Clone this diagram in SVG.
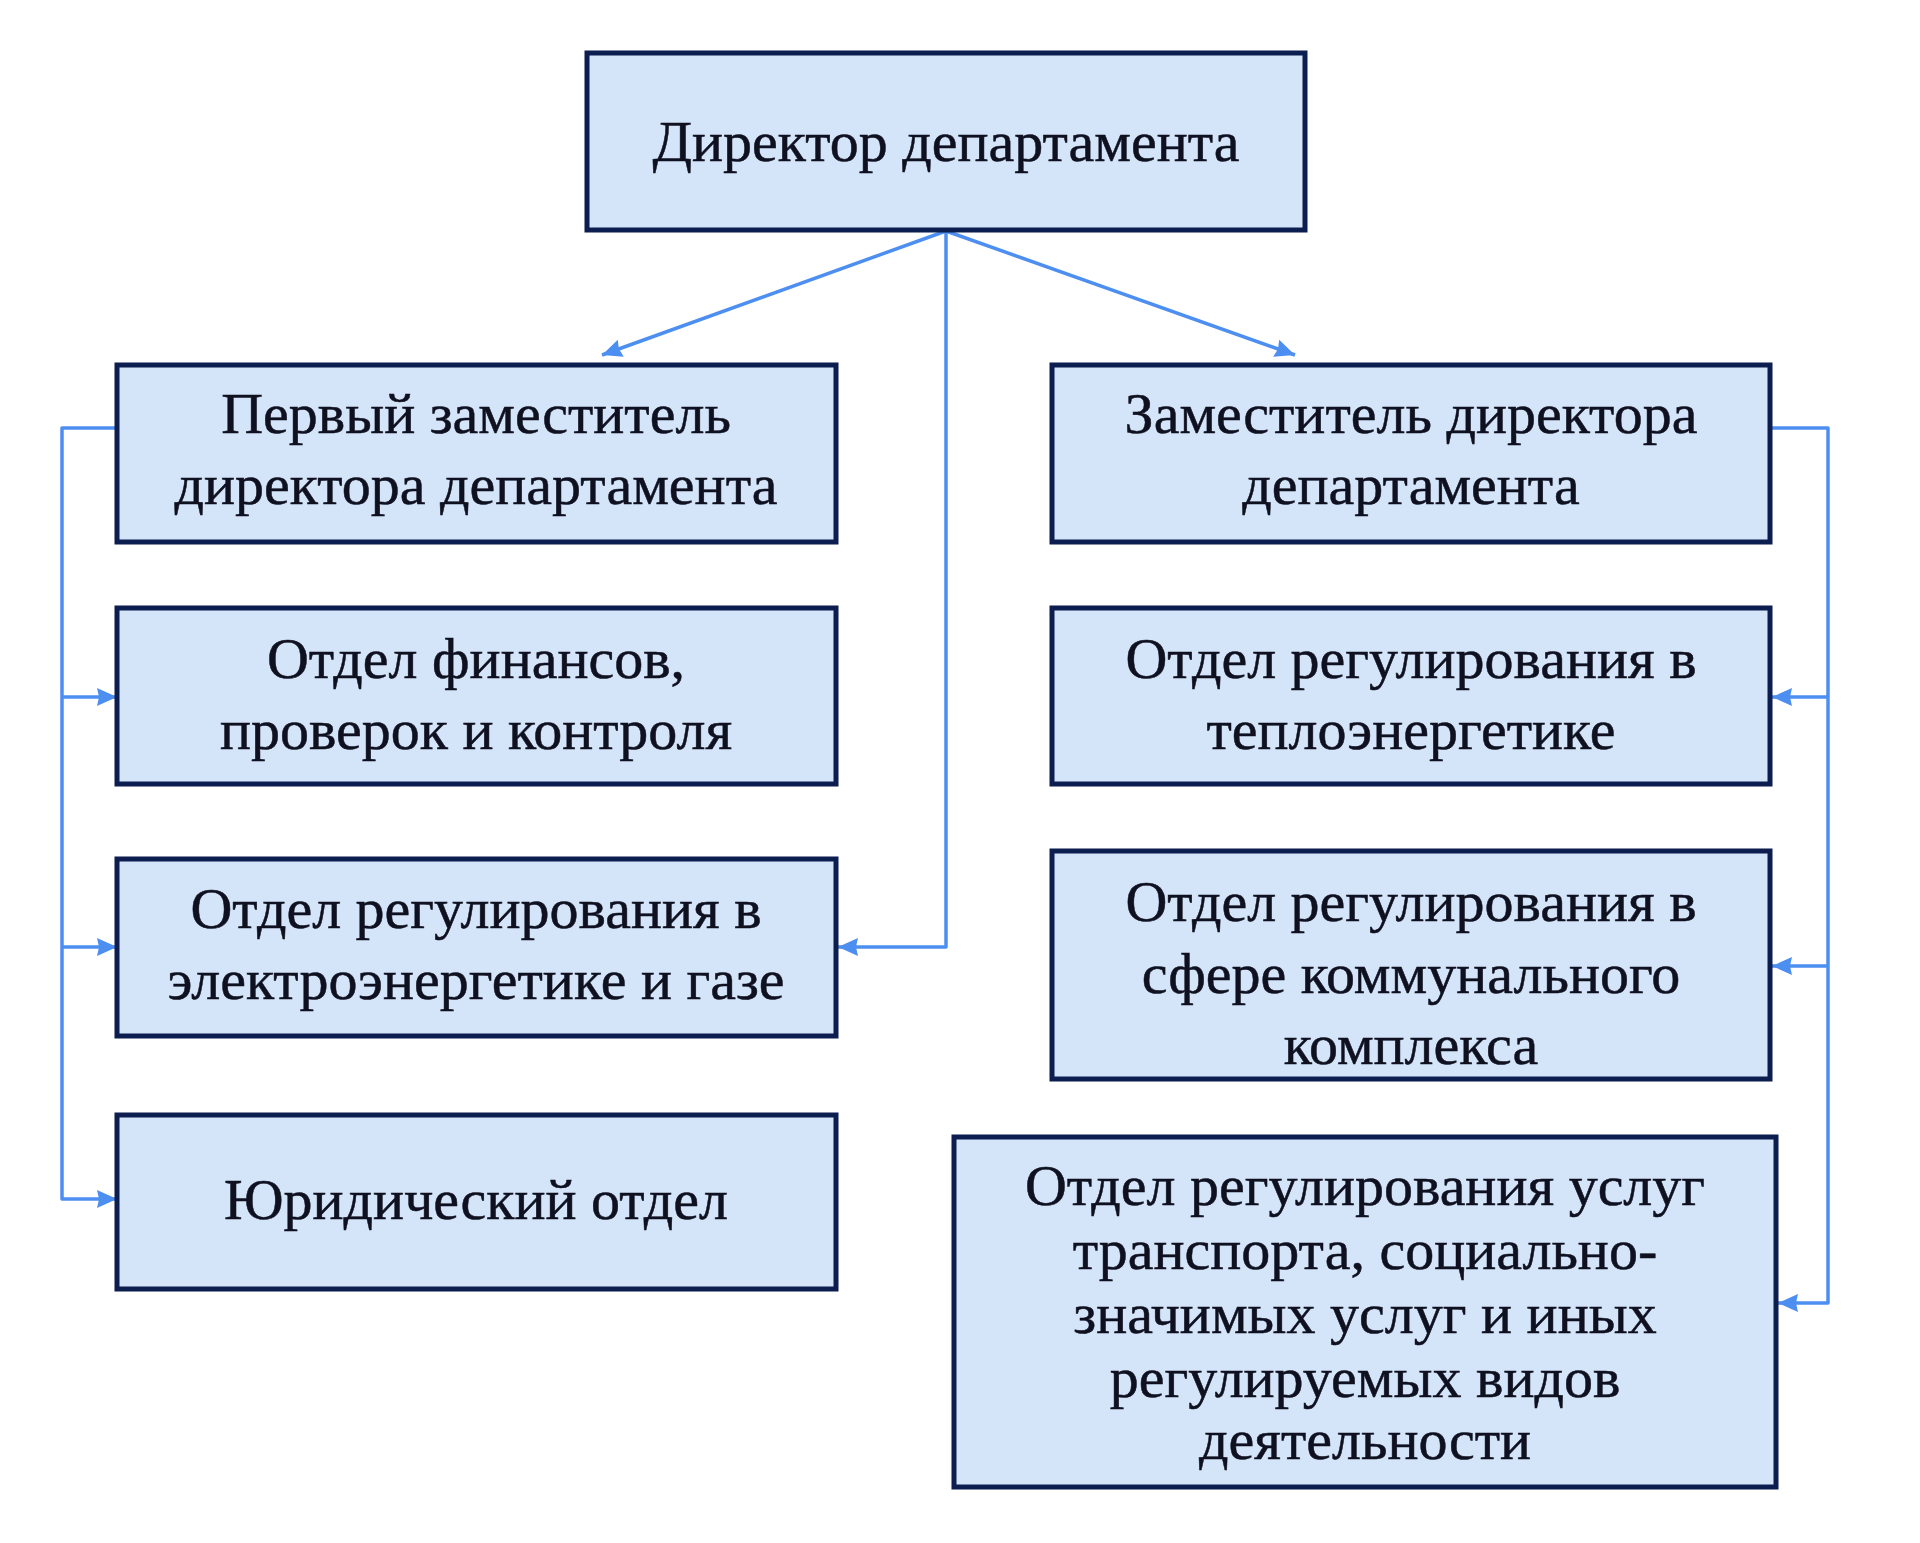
<svg xmlns="http://www.w3.org/2000/svg" width="1920" height="1543" viewBox="0 0 1920 1543">
<style>
.box{fill:#d5e5f9;stroke:#0c1d4f;stroke-width:5}
.t{font-family:"Liberation Serif","Times New Roman",serif;font-size:58px;fill:#0f1120;stroke:#0f1120;stroke-width:0.5;text-anchor:middle}
.c{fill:none;stroke:#4d8ff0;stroke-width:3.5;stroke-linejoin:round}
</style>
<defs>
<marker id="ah" markerUnits="userSpaceOnUse" markerWidth="22" markerHeight="20" refX="20" refY="10" orient="auto">
<path d="M0,1 L20,10 L0,19 L2,10 Z" fill="#4d8ff0"/>
</marker>
</defs>
<rect width="1920" height="1543" fill="#ffffff"/>
<g id="connectors">
<line class="c" x1="946" y1="231" x2="602" y2="355" marker-end="url(#ah)"/>
<line class="c" x1="946" y1="231" x2="1295" y2="355" marker-end="url(#ah)"/>
<polyline class="c" points="946,231 946,947 838,947" marker-end="url(#ah)"/>
<polyline class="c" points="117,428 62,428 62,1199 117,1199" marker-end="url(#ah)"/>
<line class="c" x1="62" y1="697" x2="117" y2="697" marker-end="url(#ah)"/>
<line class="c" x1="62" y1="947" x2="117" y2="947" marker-end="url(#ah)"/>
<polyline class="c" points="1770,428 1828,428 1828,1303 1778,1303" marker-end="url(#ah)"/>
<line class="c" x1="1828" y1="697" x2="1772" y2="697" marker-end="url(#ah)"/>
<line class="c" x1="1828" y1="966" x2="1772" y2="966" marker-end="url(#ah)"/>
</g>
<g id="director">
<rect class="box" x="587" y="53" width="718" height="177"/>
<text class="t" x="946" y="161">Директор департамента</text>
</g>
<g id="first-deputy">
<rect class="box" x="117" y="365" width="719" height="177"/>
<text class="t" x="476" y="433">Первый заместитель</text>
<text class="t" x="476" y="504">директора департамента</text>
</g>
<g id="finance">
<rect class="box" x="117" y="608" width="719" height="176"/>
<text class="t" x="476" y="678">Отдел финансов,</text>
<text class="t" x="476" y="749">проверок и контроля</text>
</g>
<g id="electro">
<rect class="box" x="117" y="859" width="719" height="177"/>
<text class="t" x="476" y="928">Отдел регулирования в</text>
<text class="t" x="476" y="999">электроэнергетике и газе</text>
</g>
<g id="legal">
<rect class="box" x="117" y="1115" width="719" height="174"/>
<text class="t" x="476" y="1219">Юридический отдел</text>
</g>
<g id="deputy">
<rect class="box" x="1052" y="365" width="718" height="177"/>
<text class="t" x="1411" y="433">Заместитель директора</text>
<text class="t" x="1411" y="504">департамента</text>
</g>
<g id="heat">
<rect class="box" x="1052" y="608" width="718" height="176"/>
<text class="t" x="1411" y="678">Отдел регулирования в</text>
<text class="t" x="1411" y="749">теплоэнергетике</text>
</g>
<g id="communal">
<rect class="box" x="1052" y="851" width="718" height="228"/>
<text class="t" x="1411" y="921">Отдел регулирования в</text>
<text class="t" x="1411" y="993">сфере коммунального</text>
<text class="t" x="1411" y="1064">комплекса</text>
</g>
<g id="transport">
<rect class="box" x="954" y="1137" width="822" height="350"/>
<text class="t" x="1365" y="1205">Отдел регулирования услуг</text>
<text class="t" x="1365" y="1269">транспорта, социально-</text>
<text class="t" x="1365" y="1333">значимых услуг и иных</text>
<text class="t" x="1365" y="1397">регулируемых видов</text>
<text class="t" x="1365" y="1459">деятельности</text>
</g>
</svg>
